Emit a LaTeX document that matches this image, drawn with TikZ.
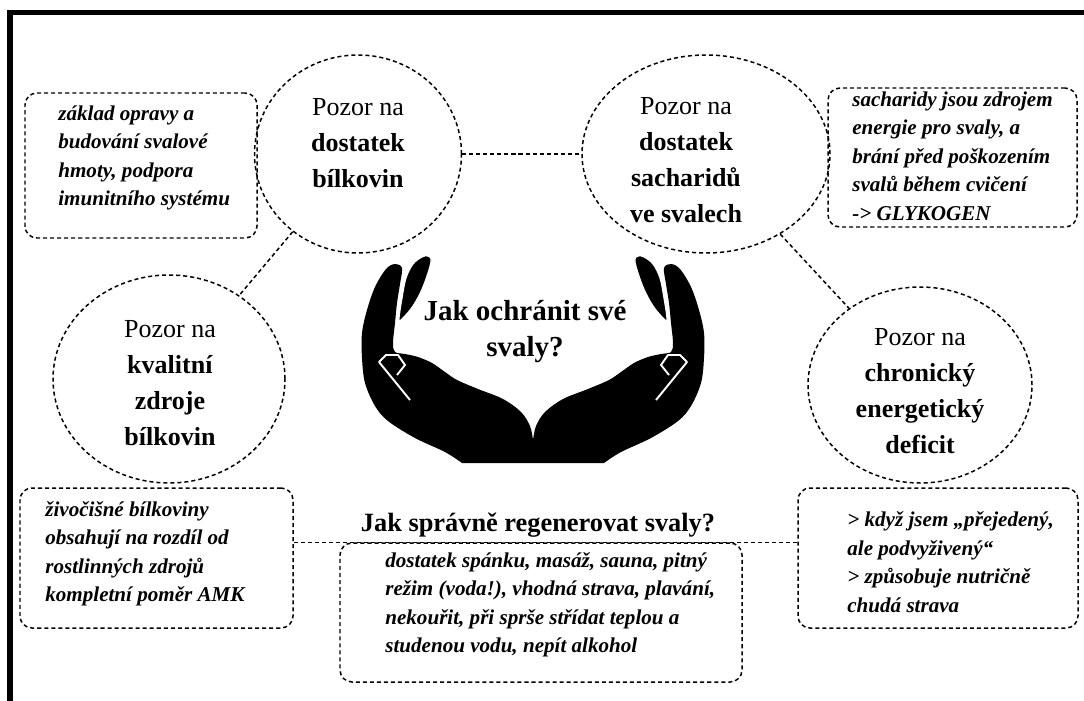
\documentclass[tikz,border=0pt]{standalone}
\usepackage{fontspec}
\setmainfont{Liberation Serif}
\usepackage{tikz}
\usetikzlibrary{shapes.geometric}

% one cupped hand, palm up, fingers on the left
\newcommand{\cuphand}{%
\fill (533,463) -- (462,463) -- plot[smooth, tension=0.55] coordinates {(462,463) (445,452) (415,438) (388,421) (375,406) (365,383) (362,358) (362,333) (367,310) (375,287) (386,269) (395,264) (402,268) (400,284) (397,303) (395,323) (393,343) (395,352) (405,354) (418,357) (432,363) (445,372) (457,380) (478,389) (503,399) (521,412) (530,426) (533,440)} -- cycle;
\filldraw[draw=white, line width=0.7pt] plot[smooth cycle, tension=0.6] coordinates {(399,319) (402,298) (406,278) (413,264) (422,257) (428,256) (431,262) (423,287) (413,306) (402,319)};
\draw[white, line width=1.1pt, line join=round] (410,400) -- (379,362) -- (386,355) -- (398,355) -- (405,365) -- (397,375);
}

\begin{document}
\begin{tikzpicture}[x=0.2mm, y=-0.2mm,
  link/.style={dash pattern=on 2.3pt off 1.7pt, line width=0.85pt},
  topic/.style={ellipse, draw, link, inner sep=0pt},
  caption/.style={align=center, inner sep=0pt, font=\fontsize{14.8}{20.5}\selectfont},
  notebox/.style={draw, link, rounded corners=2.4mm, inner sep=0pt},
  note/.style={align=left, inner sep=0pt, anchor=west, font=\fontsize{12}{16.2}\selectfont\bfseries\itshape}]
\useasboundingbox (0,0) rectangle (1084,701);
\fill[white] (0,0) rectangle (1084,701);
\draw[line width=3.1pt] (10,701) -- (10,12.5) -- (1084,12.5);

% the four circles
\node[topic, minimum width=41.4mm, minimum height=39.6mm] (c1) at (358,154) {};
\node[topic, minimum width=49.6mm, minimum height=39.6mm] (c2) at (706,154) {};
\node[topic, minimum width=46.4mm, minimum height=41.6mm] (c3) at (169,379) {};
\node[topic, minimum width=44.8mm, minimum height=39.2mm] (c4) at (920,385) {};
\node[caption] (p1) at (358,143) {Pozor na\\ \textbf{dostatek}\\ \textbf{bílkovin}};
\node[caption] (p2) at (686,160) {Pozor na\\ \textbf{dostatek}\\ \textbf{sacharidů}\\ \textbf{ve svalech}};
\node[caption] (p3) at (170,383) {Pozor na\\ \textbf{kvalitní}\\ \textbf{zdroje}\\ \textbf{bílkovin}};
\node[caption] (p4) at (920,391) {Pozor na\\ \textbf{chronický}\\ \textbf{energetický}\\ \textbf{deficit}};

% boxes with notes
\node[notebox, minimum width=46.4mm, minimum height=29mm] (b1) at (141,165.5) {};
\node[notebox, minimum width=49.8mm, minimum height=27.8mm] (b2) at (952.5,157.5) {};
\node[notebox, minimum width=54.6mm, minimum height=28mm] (b3) at (156.5,558) {};
\node[notebox, minimum width=56mm, minimum height=28mm] (b4) at (938,558) {};
\node[notebox, minimum width=80.4mm, minimum height=27.8mm] (b5) at (541,612.5) {};
\node[note] (n1) at (58,158) {základ opravy a\\ budování svalové\\ hmoty, podpora\\ imunitního systému};
\node[note] (n2) at (852,156) {sacharidy jsou zdrojem\\ energie pro svaly, a\\ brání před poškozením\\ svalů během cvičení\\ -> GLYKOGEN};
\node[note] (n3) at (45,554) {živočišné bílkoviny\\ obsahují na rozdíl od\\ rostlinných zdrojů\\ kompletní poměr AMK};
\node[note] (n4) at (847,562) {> když jsem „přejedený,\\ ale podvyživený“\\ > způsobuje nutričně\\ chudá strava};
\node[note] (n5) at (385,605) {dostatek spánku, masáž, sauna, pitný\\ režim (voda!), vhodná strava, plavání,\\ nekouřit, při sprše střídat teplou a\\ studenou vodu, nepít alkohol};

\draw[link] (c1) -- (c2);
\draw[link] (c1) -- (c3);
\draw[link] (c2) -- (c4);
\draw[link] (b3.east |- b5.north) -- (b4.west |- b5.north);

% hands in the middle
\cuphand
\begin{scope}[shift={(1066,0)}, xscale=-1]
\cuphand
\end{scope}
\node[align=center, inner sep=0pt, font=\fontsize{16.5}{20.5}\selectfont\bfseries] (ask) at (525,332) {Jak ochránit své\\ svaly?};
\node[inner sep=0pt, font=\fontsize{15}{18}\selectfont\bfseries] (regen) at (538,525) {Jak správně regenerovat svaly?};
\end{tikzpicture}
\end{document}
